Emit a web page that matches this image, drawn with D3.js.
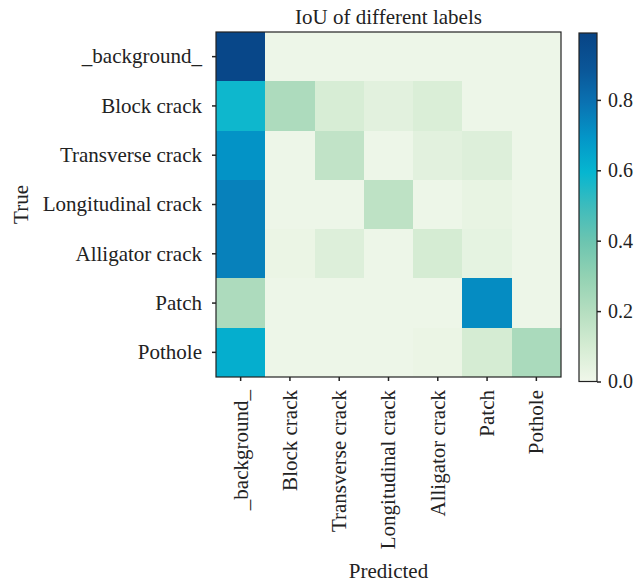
<!DOCTYPE html>
<html><head><meta charset="utf-8">
<script src="https://cdn.jsdelivr.net/npm/d3@7"></script>
<style>
body{margin:0;background:#fff}
text{font-family:"Liberation Serif","Times New Roman",serif;fill:#222}
</style></head>
<body>
<svg id="chart" width="638" height="586"></svg>
<script>
// ---- data ----
const categories = ["_background_","Block crack","Transverse crack","Longitudinal crack","Alligator crack","Patch","Pothole"];
const iou = [
  [0.97, 0.01, 0.01, 0.01, 0.01, 0.01, 0.01],
  [0.58, 0.22, 0.09, 0.05, 0.08, 0.01, 0.01],
  [0.70, 0.01, 0.16, 0.01, 0.05, 0.07, 0.01],
  [0.75, 0.01, 0.01, 0.17, 0.01, 0.03, 0.01],
  [0.75, 0.02, 0.07, 0.01, 0.10, 0.04, 0.01],
  [0.22, 0.01, 0.01, 0.01, 0.01, 0.72, 0.01],
  [0.62, 0.01, 0.01, 0.01, 0.02, 0.10, 0.23]
];
const colorbarTicks = [0, 0.2, 0.4, 0.6, 0.8];
const colorDomain = [0, 0.99];
const colorStops = ["#f0f7ea","#d5ecd3","#b5dec0","#93d2b3","#6dc5b0","#3fbcbc","#06b6d0","#0396c8","#0a72b2","#0a5597","#084485"];
const title = "IoU of different labels";
const xTitle = "Predicted";
const yTitle = "True";

// ---- drawing ----
const svg = d3.select("#chart");
const L = 216, R = 561, T = 32, B = 377;
const FS = "21px";
const x = d3.scaleBand().domain(categories).range([L, R]);
const y = d3.scaleBand().domain(categories).range([T, B]);
const stopDomain = d3.range(colorStops.length).map(i => colorDomain[0] + (colorDomain[1]-colorDomain[0]) * i/(colorStops.length-1));
const color = d3.scaleLinear().domain(stopDomain).range(colorStops).interpolate(d3.interpolateRgb).clamp(true);

const cells = [];
iou.forEach((row, i) => row.forEach((v, j) => cells.push({r: categories[i], c: categories[j], v})));
svg.append("g").selectAll("rect").data(cells).join("rect")
  .attr("x", d => x(d.c)).attr("y", d => y(d.r))
  .attr("width", x.bandwidth()).attr("height", y.bandwidth())
  .attr("fill", d => color(d.v)).attr("shape-rendering","crispEdges");

svg.append("rect").attr("x", L).attr("y", T).attr("width", R-L).attr("height", B-T)
  .attr("fill","none").attr("stroke","#222").attr("stroke-width",1.2);

const yAx = svg.append("g").attr("transform", `translate(${L},0)`)
  .call(d3.axisLeft(y).tickSize(4).tickPadding(10));
yAx.select(".domain").remove();
yAx.selectAll("line").attr("stroke","#222").attr("stroke-width",1.5);
yAx.selectAll("text").style("font-size",FS).attr("fill","#222");

const xAx = svg.append("g").attr("transform", `translate(0,${B})`)
  .call(d3.axisBottom(x).tickSize(4));
xAx.select(".domain").remove();
xAx.selectAll("line").attr("stroke","#222").attr("stroke-width",1.5);
xAx.selectAll("text").style("font-size",FS).attr("fill","#222")
  .attr("transform","rotate(-90)").attr("text-anchor","end")
  .attr("x",-13).attr("y",0).attr("dy","0.33em");

svg.append("text").attr("x", (L+R)/2).attr("y", 24).attr("text-anchor","middle")
  .style("font-size",FS).text(title);
svg.append("text").attr("x", (L+R)/2).attr("y", 578).attr("text-anchor","middle")
  .style("font-size",FS).text(xTitle);
svg.append("text").attr("transform", `translate(28,${(T+B)/2}) rotate(-90)`).attr("text-anchor","middle")
  .style("font-size",FS).text(yTitle);

// colorbar
const cbX = 579, cbW = 18, cbT = 33, cbB = 381.5;
const cbScale = d3.scaleLinear().domain(colorDomain).range([cbB, cbT]);
const grad = svg.append("defs").append("linearGradient").attr("id","cbg")
  .attr("x1",0).attr("y1",1).attr("x2",0).attr("y2",0);
grad.selectAll("stop").data(colorStops).join("stop")
  .attr("offset",(d,i)=> i/(colorStops.length-1)).attr("stop-color", d=>d);
svg.append("rect").attr("x",cbX).attr("y",cbT).attr("width",cbW).attr("height",cbB-cbT)
  .attr("fill","url(#cbg)").attr("stroke","#222").attr("stroke-width",1.2);
const cbAx = svg.append("g").attr("transform",`translate(${cbX+cbW},0)`)
  .call(d3.axisRight(cbScale).tickValues(colorbarTicks).tickFormat(d3.format(".1f")).tickSize(4).tickPadding(7));
cbAx.select(".domain").remove();
cbAx.selectAll("line").attr("stroke","#222").attr("stroke-width",1.5);
cbAx.selectAll("text").style("font-size","20px").attr("fill","#222");
</script>
</body></html>
